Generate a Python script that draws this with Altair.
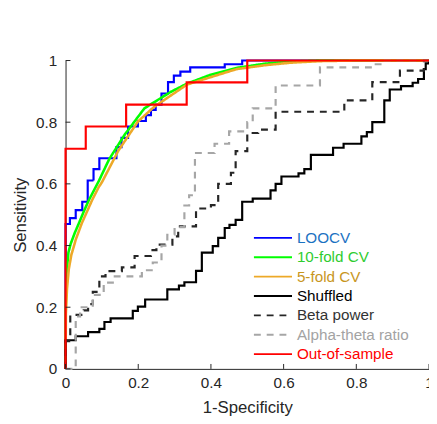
import altair as alt
import pandas as pd

SERIES = ["LOOCV", "10-fold CV", "5-fold CV", "Shuffled", "Beta power",
          "Alpha-theta ratio", "Out-of-sample"]
LINE_COLORS = ["#0000FF", "#00FF00", "#EDA928", "#000000", "#262626", "#A6A6A6", "#FF0000"]
TEXT_COLORS = ["#1A72C2", "#2FCC2F", "#C8961E", "#000000", "#333333", "#A3A3A3", "#FF0000"]
DASHES = [[1, 0], [1, 0], [1, 0], [1, 0], [7, 6], [7, 6], [1, 0]]

TICKS = [0, 0.2, 0.4, 0.6, 0.8, 1.0]

# step curves: (x where the step occurs, y after the step)
LOOCV_X = [0, 0, 0.012, 0.028, 0.046, 0.061, 0.077, 0.093, 0.140, 0.154, 0.172, 0.199,
           0.221, 0.235, 0.248, 0.264, 0.282, 0.298, 0.316, 0.343, 0.438, 0.486, 1]
LOOCV_Y = [0, 0.47, 0.489, 0.515, 0.542, 0.611, 0.648, 0.683, 0.719, 0.749, 0.786, 0.804,
           0.823, 0.840, 0.857, 0.893, 0.930, 0.951, 0.964, 0.978, 0.988, 1, 1]

SHUF_X = [0, 0, 0.028, 0.062, 0.093, 0.107, 0.124, 0.185, 0.199, 0.219, 0.28, 0.312, 0.327,
          0.359, 0.375, 0.405, 0.42, 0.438, 0.451, 0.468, 0.486, 0.515, 0.564, 0.578, 0.594,
          0.641, 0.657, 0.675, 0.736, 0.765, 0.814, 0.829, 0.844, 0.877, 0.892, 0.923, 0.955,
          0.970, 0.986, 0.991, 1]
SHUF_Y = [0, 0.093, 0.106, 0.119, 0.130, 0.152, 0.164, 0.188, 0.202, 0.225, 0.258, 0.27, 0.281,
          0.318, 0.377, 0.398, 0.425, 0.457, 0.467, 0.483, 0.542, 0.552, 0.579, 0.6, 0.624,
          0.634, 0.648, 0.694, 0.717, 0.730, 0.754, 0.768, 0.800, 0.871, 0.906, 0.917, 0.928,
          0.940, 0.972, 0.991, 1]

BETA_X = [0, 0, 0.013, 0.05, 0.062, 0.075, 0.093, 0.11, 0.155, 0.19, 0.235, 0.25, 0.294, 0.31,
          0.359, 0.40, 0.42, 0.455, 0.468, 0.50, 0.53, 0.578, 0.767, 0.844, 0.92, 0.986, 1]
BETA_Y = [0, 0.09, 0.175, 0.19, 0.21, 0.25, 0.30, 0.317, 0.329, 0.366, 0.385, 0.403, 0.43, 0.462,
          0.52, 0.531, 0.6, 0.636, 0.706, 0.765, 0.776, 0.834, 0.871, 0.93, 0.967, 1, 1]

ALPHA_X = [0, 0.028, 0.04, 0.075, 0.105, 0.13, 0.21, 0.24, 0.264, 0.28, 0.30, 0.327, 0.34,
           0.356, 0.41, 0.45, 0.5, 0.515, 0.578, 0.70, 0.844, 0.87, 1]
ALPHA_Y = [0, 0.17, 0.2, 0.24, 0.28, 0.30, 0.32, 0.345, 0.40, 0.435, 0.46, 0.53, 0.563,
           0.70, 0.73, 0.77, 0.80, 0.845, 0.919, 0.978, 0.988, 1, 1]

OOS_X = [0, 0, 0.0556, 0.1667, 0.3333, 0.5, 1]
OOS_Y = [0, 0.714, 0.786, 0.857, 0.929, 1, 1]

# smooth curves
CV10_X = [0, 0.0005, 0.002, 0.005, 0.008, 0.014, 0.025, 0.037, 0.05, 0.064, 0.091, 0.12,
          0.163, 0.217, 0.289, 0.334, 0.397, 0.47, 0.55, 0.62, 0.7, 1.0]
CV10_Y = [0, 0.2, 0.3, 0.34, 0.378, 0.405, 0.44, 0.473, 0.51, 0.547, 0.608, 0.68,
          0.76, 0.845, 0.898, 0.925, 0.953, 0.976, 0.99, 0.997, 1.0, 1.0]

CV5_X = [0, 0.001, 0.004, 0.009, 0.016, 0.023, 0.028, 0.045, 0.073, 0.091, 0.1, 0.145,
         0.199, 0.244, 0.334, 0.47, 0.55, 0.62, 0.7, 0.8, 1]
CV5_Y = [0, 0.18, 0.26, 0.324, 0.37, 0.398, 0.419, 0.473, 0.547, 0.589, 0.605, 0.707,
         0.802, 0.850, 0.922, 0.972, 0.985, 0.993, 0.998, 1, 1]

CURVES = [
    ("LOOCV", LOOCV_X, LOOCV_Y, "step-after", 2.2),
    ("10-fold CV", CV10_X, CV10_Y, "linear", 2.6),
    ("5-fold CV", CV5_X, CV5_Y, "linear", 2.6),
    ("Shuffled", SHUF_X, SHUF_Y, "step-after", 2.2),
    ("Beta power", BETA_X, BETA_Y, "step-after", 2.2),
    ("Alpha-theta ratio", ALPHA_X, ALPHA_Y, "step-after", 2.2),
    ("Out-of-sample", OOS_X, OOS_Y, "step-after", 2.2),
]

FONT = "Liberation Sans"
W, H = 369.5, 313.5

xscale = alt.Scale(domain=[0, 1], nice=False, zero=False)
yscale = alt.Scale(domain=[0, 1], nice=False, zero=False)
xaxis = alt.Axis(values=TICKS, title="1-Specificity", grid=False, format="~g", labelFlush=False)
yaxis = alt.Axis(values=TICKS, title="Sensitivity", grid=False, format="~g", labelFlush=False)
cscale = alt.Scale(domain=SERIES, range=LINE_COLORS)
dscale = alt.Scale(domain=SERIES, range=DASHES)


def X():
    return alt.X("x:Q", scale=xscale, axis=xaxis)


def Y():
    return alt.Y("y:Q", scale=yscale, axis=yaxis)


layers = []
for name, xs, ys, interp, sw in CURVES:
    df = pd.DataFrame({"x": xs, "y": ys, "series": name, "o": range(len(xs))})
    layers.append(alt.Chart(df).mark_line(interpolate=interp, strokeWidth=sw).encode(
        x=X(), y=Y(), order="o:Q",
        color=alt.Color("series:N", scale=cscale, legend=None),
        strokeDash=alt.StrokeDash("series:N", scale=dscale, legend=None),
    ))

# inward ticks
ytick = alt.Chart(pd.DataFrame({"y": TICKS})).mark_rule(color="#262626", strokeWidth=1).encode(
    y=Y(), x=alt.value(0), x2=alt.value(5))
xtick = alt.Chart(pd.DataFrame({"x": TICKS})).mark_rule(color="#262626", strokeWidth=1).encode(
    x=X(), y=alt.value(H), y2=alt.value(H - 5))

# legend
ldf = pd.DataFrame({"series": SERIES, "idx": range(len(SERIES)), "tcol": TEXT_COLORS})
leg_base = alt.Chart(ldf).transform_calculate(ly="180.3 + datum.idx * 19.7")
leg_lines = leg_base.mark_rule(strokeWidth=2).encode(
    x=alt.value(191.5), x2=alt.value(230.2),
    y=alt.Y("ly:Q", scale=None),
    color=alt.Color("series:N", scale=cscale, legend=None),
    strokeDash=alt.StrokeDash("series:N", scale=dscale, legend=None),
)
leg_text = leg_base.mark_text(align="left", baseline="middle", font=FONT, fontSize=15.5).encode(
    x=alt.value(235.2),
    y=alt.Y("ly:Q", scale=None),
    text="series:N",
    color=alt.Color("tcol:N", scale=None),
)

chart = alt.layer(*layers, ytick, xtick, leg_lines, leg_text).properties(
    width=W, height=H,
    autosize=alt.AutoSizeParams(type="none"),
    padding={"left": 58.5, "top": 50, "right": 0, "bottom": 45},
).configure_view(stroke=None).configure_axis(
    domainColor="#262626", domainWidth=1, tickSize=0,
    labelFont=FONT, labelFontSize=15.5, labelColor="#262626",
    titleFont=FONT, titleFontSize=17, titleFontWeight="normal", titleColor="#262626",
).configure_axisX(labelPadding=7, titlePadding=9).configure_axisY(labelPadding=9, titlePadding=6)

chart.save("out.html", embed_options={"renderer": "svg", "actions": False})
